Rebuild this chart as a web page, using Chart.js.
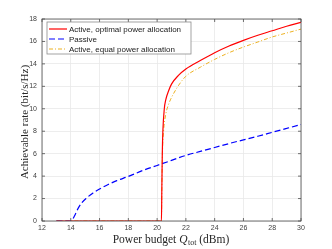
<!DOCTYPE html>
<html>
<head>
<meta charset="utf-8">
<script src="https://cdn.jsdelivr.net/npm/chart.js@4"></script>
<style>
  html, body { margin: 0; padding: 0; background: #fff; }
  #wrap { width: 332px; height: 249px; }
</style>
</head>
<body>
<div id="wrap"><canvas id="grafico"></canvas></div>
<script>
// data
const optX = [13, 20.3, 20.33, 20.36, 20.4, 20.5, 20.6, 20.8, 21, 21.5, 22, 23, 24, 25, 26, 27, 28, 29, 30]
const optY = [0, 0, 3, 6, 8, 10, 10.8, 11.6, 12.2, 13, 13.55, 14.3, 15.0, 15.6, 16.1, 16.55, 16.95, 17.35, 17.7]
const passX = [13, 14, 14.1, 14.3, 14.5, 14.75, 15.1, 15.55, 16, 16.6, 17.2, 18, 19, 20, 21, 22, 23, 24, 25, 26, 27, 28, 29, 30]
const passY = [0, 0, 0.1, 0.56, 1.1, 1.6, 2.05, 2.5, 2.85, 3.25, 3.6, 3.97, 4.5, 4.95, 5.4, 5.85, 6.2, 6.55, 6.9, 7.23, 7.55, 7.9, 8.25, 8.6]
const eqX = [13, 20.3, 20.33, 20.37, 20.45, 20.6, 20.8, 21, 21.5, 22, 23, 24, 25, 26, 27, 28, 29, 30]
const eqY = [0, 0, 3, 6, 8, 9.5, 10.4, 11, 12.1, 12.9, 13.7, 14.4, 15, 15.5, 15.95, 16.4, 16.75, 17.1]
const xTicks = [12, 14, 16, 18, 20, 22, 24, 26, 28, 30]
const yTicks = [0, 2, 4, 6, 8, 10, 12, 14, 16, 18]
const labels = ["Active, optimal power allocation", "Passive", "Active, equal power allocation"]

const pares = (xs, ys) => xs.map((x, i) => ({ x, y: ys[i] }))

const caixa = {
  id: "caixa",
  afterDraw(chart) {
    const ctx = chart.ctx
    const a = chart.chartArea
    const sx = chart.scales.x
    const sy = chart.scales.y
    ctx.save()
    // box + inner ticks
    ctx.strokeStyle = "#4d4d4d"
    ctx.lineWidth = 0.8
    ctx.strokeRect(a.left, a.top, a.right - a.left, a.bottom - a.top)
    ctx.beginPath()
    xTicks.forEach(t => {
      const px = sx.getPixelForValue(t)
      ctx.moveTo(px, a.bottom); ctx.lineTo(px, a.bottom - 3)
      ctx.moveTo(px, a.top); ctx.lineTo(px, a.top + 3)
    })
    yTicks.forEach(t => {
      const py = sy.getPixelForValue(t)
      ctx.moveTo(a.left, py); ctx.lineTo(a.left + 3, py)
      ctx.moveTo(a.right, py); ctx.lineTo(a.right - 3, py)
    })
    ctx.stroke()

    // legend
    const lx = 47, ly = 22, lw = 144, lh = 32
    ctx.fillStyle = "#fff"
    ctx.fillRect(lx, ly, lw, lh)
    ctx.strokeStyle = "#8c8c8c"
    ctx.lineWidth = 0.8
    ctx.strokeRect(lx, ly, lw, lh)
    ctx.font = "8px 'Liberation Sans', Arial, sans-serif"
    ctx.textBaseline = "middle"
    chart.data.datasets.forEach((ds, i) => {
      const yy = ly + 7 + i * 10
      ctx.strokeStyle = ds.borderColor
      ctx.lineWidth = ds.borderWidth
      ctx.setLineDash(ds.borderDash || [])
      ctx.beginPath()
      ctx.moveTo(lx + 2, yy); ctx.lineTo(lx + 20, yy)
      ctx.stroke()
      ctx.setLineDash([])
      ctx.fillStyle = "#1a1a1a"
      ctx.textAlign = "left"
      ctx.fillText(ds.label, lx + 22, yy + 0.5)
    })

    // axis titles
    const fs = 11.5
    ctx.fillStyle = "#262626"
    ctx.textBaseline = "alphabetic"
    const p1 = "Power budget ", p3 = " (dBm)"
    ctx.font = fs + "px 'Liberation Serif', serif"
    const w1 = ctx.measureText(p1).width
    const w3 = ctx.measureText(p3).width
    ctx.font = "italic " + fs + "px 'Liberation Serif', serif"
    const wq = ctx.measureText("Q").width
    ctx.font = "8px 'Liberation Serif', serif"
    const ws = ctx.measureText("tot").width
    let x0 = 171 - (w1 + wq + ws + w3 + 0.5) / 2
    const by = 243
    ctx.textAlign = "left"
    ctx.font = fs + "px 'Liberation Serif', serif"
    ctx.fillText(p1, x0, by); x0 += w1
    ctx.font = "italic " + fs + "px 'Liberation Serif', serif"
    ctx.fillText("Q", x0, by); x0 += wq + 0.5
    ctx.font = "8px 'Liberation Serif', serif"
    ctx.fillText("tot", x0, by + 2); x0 += ws
    ctx.font = fs + "px 'Liberation Serif', serif"
    ctx.fillText(p3, x0, by)

    ctx.translate(28, 122)
    ctx.rotate(-Math.PI / 2)
    ctx.textAlign = "center"
    ctx.font = "11px 'Liberation Serif', serif"
    ctx.fillText("Achievable rate (bit/s/Hz)", 0, 0)
    ctx.restore()
  }
}

const ctx = document.getElementById("grafico").getContext("2d")
new Chart(ctx, {
  type: "line",
  data: {
    datasets: [
      {
        label: labels[0],
        data: pares(optX, optY),
        borderColor: "#ff0000",
        borderWidth: 1.2,
        cubicInterpolationMode: "monotone",
      },
      {
        label: labels[1],
        data: pares(passX, passY),
        borderColor: "#0000ff",
        borderWidth: 1.2,
        borderDash: [6, 3],
        cubicInterpolationMode: "monotone",
      },
      {
        label: labels[2],
        data: pares(eqX, eqY),
        borderColor: "#edb120",
        borderWidth: 1,
        borderDash: [4, 2, 1, 2],
        cubicInterpolationMode: "monotone",
      },
    ],
  },
  options: {
    responsive: true,
    maintainAspectRatio: false,
    animation: false,
    elements: { point: { radius: 0 } },
    layout: { padding: { left: 0, top: 19, right: 31, bottom: 0 } },
    plugins: { legend: { display: false }, tooltip: { enabled: false } },
    scales: {
      x: {
        type: "linear",
        min: 12, max: 30,
        afterBuildTicks: s => { s.ticks = xTicks.map(v => ({ value: v })) },
        afterFit: s => { s.height = 28 },
        grid: { color: "#e8e8e8", lineWidth: 0.8, drawTicks: false },
        border: { display: false },
        ticks: { padding: 3, color: "#404040", font: { size: 7, family: "'Liberation Sans', Arial, sans-serif" }, maxRotation: 0 },
      },
      y: {
        min: 0, max: 18,
        afterBuildTicks: s => { s.ticks = yTicks.map(v => ({ value: v })) },
        afterFit: s => { s.width = 42 },
        grid: { color: "#e8e8e8", lineWidth: 0.8, drawTicks: false },
        border: { display: false },
        ticks: { padding: 5, color: "#404040", font: { size: 7, family: "'Liberation Sans', Arial, sans-serif" } },
      },
    },
  },
  plugins: [caixa],
})
</script>
</body>
</html>
